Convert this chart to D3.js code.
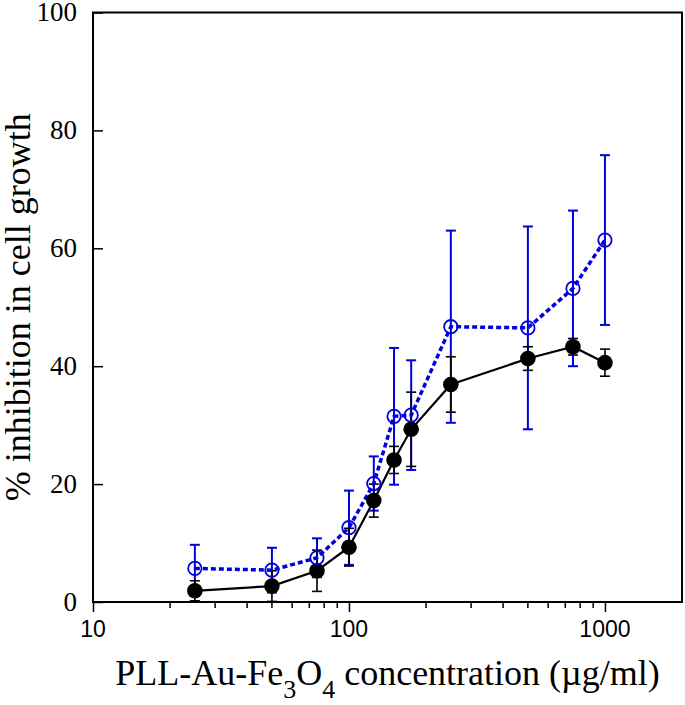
<!DOCTYPE html>
<html><head><meta charset="utf-8">
<script src="https://cdn.jsdelivr.net/npm/d3@7"></script>
<style>body{margin:0;background:#fff}</style>
</head><body>
<svg id="chart" width="685" height="705"></svg>
<script>
const concentrations = [25, 50, 75, 100, 125, 150, 175, 250, 500, 750, 1000];
const filledValues = [1.9, 2.7, 5.3, 9.3, 17.2, 24.1, 29.3, 36.9, 41.3, 43.3, 40.6];
const filledErrors = [1.7, 2.6, 3.5, 3.2, 2.8, 2.3, 6.3, 4.7, 2.0, 1.4, 2.3];
const openValues = [5.7, 5.4, 7.5, 12.6, 20.1, 31.5, 31.7, 46.7, 46.5, 53.2, 61.4];
const openErrors = [4.0, 3.8, 3.3, 6.3, 4.6, 11.6, 9.3, 16.3, 17.2, 13.2, 14.4];
const yTicks = [0, 20, 40, 60, 80, 100];
const xMajorTicks = [10, 100, 1000];
const xMinorTicks = [20,30,40,50,60,70,80,90,200,300,400,500,600,700,800,900];

const svg = d3.select("#chart");
const L = 93, R = 682, T = 12.5, B = 602;
const x = d3.scaleLog().domain([10, 2000]).range([L, R]);
const y = d3.scaleLinear().domain([0, 100]).range([B, T]);

const serif = "'Liberation Serif','Times New Roman',serif";
const sans = "'Liberation Sans',Arial,sans-serif";

// frame
svg.append("rect").attr("x", L).attr("y", T).attr("width", R - L).attr("height", B - T)
  .attr("fill", "none").attr("stroke", "#000").attr("stroke-width", 2);

// y axis ticks (inward)
const yAxis = d3.axisRight(y).tickValues(yTicks).tickSize(10).tickFormat("");
svg.append("g").attr("transform", `translate(${L},0)`).call(yAxis)
  .call(g => g.select(".domain").remove())
  .selectAll("line").attr("stroke", "#000").attr("stroke-width", 1.5);
svg.append("g").selectAll("text").data(yTicks).join("text")
  .attr("x", L - 16).attr("y", d => y(d)).attr("dy", "0.33em")
  .attr("text-anchor", "end").attr("font-family", serif).attr("font-size", 27)
  .text(d => d);

// x axis ticks (outward)
const xMajor = d3.axisBottom(x).tickValues(xMajorTicks).tickSize(10).tickFormat("");
svg.append("g").attr("transform", `translate(0,${B})`).call(xMajor)
  .call(g => g.select(".domain").remove())
  .selectAll("line").attr("stroke", "#000").attr("stroke-width", 1.5);
svg.append("g").attr("stroke", "#000").attr("stroke-width", 1.5)
  .selectAll("line").data(xMinorTicks).join("line")
  .attr("x1", d => x(d)).attr("x2", d => x(d)).attr("y1", B).attr("y2", B + 6);
svg.append("g").selectAll("text").data(xMajorTicks).join("text")
  .attr("x", d => x(d)).attr("y", 637)
  .attr("text-anchor", "middle").attr("font-family", sans).attr("font-size", 23)
  .text(d => d);

// axis titles
svg.append("text").attr("transform", `translate(30,${(T + B) / 2}) rotate(-90)`)
  .attr("text-anchor", "middle").attr("font-family", serif).attr("font-size", 36)
  .text("% inhibition in cell growth");

const xl = svg.append("text").attr("x", (L + R) / 2).attr("y", 685)
  .attr("text-anchor", "middle").attr("font-family", serif).attr("font-size", 36);
xl.append("tspan").text("PLL-Au-Fe");
xl.append("tspan").attr("font-size", 26).attr("dy", 13).text("3");
xl.append("tspan").attr("dy", -13).text("O");
xl.append("tspan").attr("font-size", 26).attr("dy", 13).text("4");
xl.append("tspan").attr("dy", -13).text(" concentration (\u00B5g/ml)");

const blue = "#0000dd";
const filled = concentrations.map((c, i) => ({c, v: filledValues[i], e: filledErrors[i]}));
const open = concentrations.map((c, i) => ({c, v: openValues[i], e: openErrors[i]}));

function errorBars(data, color, w) {
  const g = svg.append("g").attr("stroke", color).attr("stroke-width", w).attr("fill", "none");
  g.selectAll("line.v").data(data).join("line").attr("class", "v")
    .attr("x1", d => x(d.c)).attr("x2", d => x(d.c))
    .attr("y1", d => y(Math.max(0, d.v - d.e))).attr("y2", d => y(d.v + d.e));
  g.selectAll("line.t").data(data).join("line").attr("class", "t")
    .attr("x1", d => x(d.c) - 5).attr("x2", d => x(d.c) + 5)
    .attr("y1", d => y(d.v + d.e)).attr("y2", d => y(d.v + d.e));
  g.selectAll("line.b").data(data.filter(d => d.v - d.e > 0)).join("line").attr("class", "b")
    .attr("x1", d => x(d.c) - 5).attr("x2", d => x(d.c) + 5)
    .attr("y1", d => y(d.v - d.e)).attr("y2", d => y(d.v - d.e));
}
errorBars(open, blue, 2);
errorBars(filled, "#000", 1.6);

const line = d3.line().x(d => x(d.c)).y(d => y(d.v));
svg.append("path").datum(filled).attr("d", line).attr("fill", "none")
  .attr("stroke", "#000").attr("stroke-width", 2.2);
svg.append("path").datum(open).attr("d", line).attr("fill", "none")
  .attr("stroke", blue).attr("stroke-width", 3.5).attr("stroke-dasharray", "5,3");

svg.append("g").selectAll("circle").data(filled).join("circle")
  .attr("cx", d => x(d.c)).attr("cy", d => y(d.v)).attr("r", 7.8).attr("fill", "#000");
svg.append("g").selectAll("circle").data(open).join("circle")
  .attr("cx", d => x(d.c)).attr("cy", d => y(d.v)).attr("r", 6.7)
  .attr("fill", "none").attr("stroke", blue).attr("stroke-width", 1.8);
</script>
</body></html>
